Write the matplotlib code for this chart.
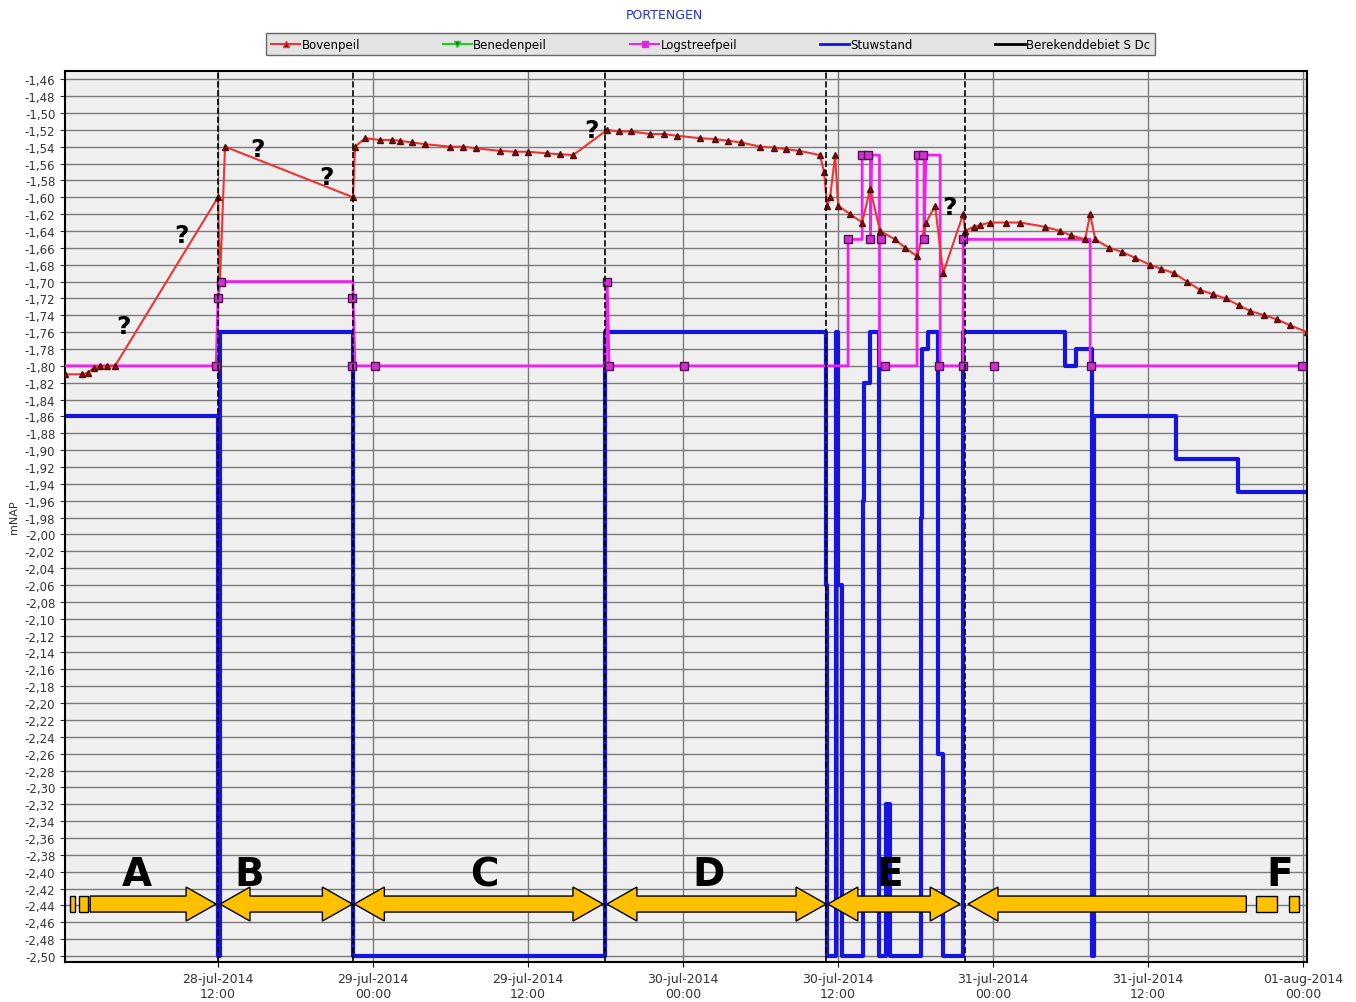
import numpy as np
import matplotlib.pyplot as plt
from matplotlib.patches import Polygon, Rectangle
from matplotlib.lines import Line2D
from matplotlib.ticker import MultipleLocator, FuncFormatter

# uren vanaf 28-jul-2014 00:00
boven_t = [0.16, 1.5, 1.94, 2.4, 2.86, 3.4, 4.03, 12, 12.15, 12.54, 22.45, 22.6, 23.38, 24.5, 25.5,
           26.09, 27, 28, 29.96, 31, 32, 33.83, 35, 36, 37.5, 38.5, 39.48,
           42.12, 43, 44, 45.44, 46.5, 47.5, 49.31, 50.5, 51.5, 52.5, 53.96, 55, 56, 57, 58.6,
           58.91, 59.15, 59.38, 59.77, 60, 60.93, 61.86, 62.48,
           63.25, 64.41, 65.2, 66.11, 66.81, 67.51, 68.13, 69.68, 69.83, 70.5, 71, 71.77, 73, 74.09,
           76, 77.19, 78, 79.12, 79.51, 79.9, 81, 82, 83, 84.15, 85, 86, 87, 88.03, 89, 90, 91,
           91.9, 93, 94, 95, 96.31]
boven_v = [-1.81, -1.81, -1.808, -1.802, -1.80, -1.80, -1.80, -1.60, -1.70, -1.54, -1.60, -1.54, -1.53,
           -1.532, -1.532, -1.533, -1.535, -1.537, -1.54, -1.54, -1.542, -1.545, -1.546, -1.546,
           -1.548, -1.549, -1.55,
           -1.52, -1.522, -1.522, -1.525, -1.525, -1.527, -1.53, -1.531, -1.533, -1.535, -1.54,
           -1.541, -1.543, -1.545, -1.55,
           -1.57, -1.61, -1.60, -1.55, -1.61, -1.62, -1.63, -1.59,
           -1.64, -1.65, -1.66, -1.67, -1.63, -1.61, -1.69, -1.62, -1.64, -1.635, -1.633, -1.63,
           -1.63, -1.63, -1.635, -1.64, -1.645, -1.65, -1.62, -1.65, -1.66, -1.665, -1.672, -1.68,
           -1.685, -1.69, -1.70, -1.71, -1.715, -1.72, -1.728, -1.735, -1.74, -1.745, -1.752, -1.76]

log_t = [0.16, 11.85, 12, 12.15, 22.45, 22.45, 22.6, 42, 42.12, 42.27, 60.77, 60.77, 61.86, 61.86,
         62.5, 62.5, 62.6, 63.2, 63.2, 66.11, 66.11, 66.65, 66.65, 66.8, 67.9, 67.9, 69.68, 69.68,
         79.51, 79.51, 96.31]
log_v = [-1.80, -1.80, -1.72, -1.70, -1.70, -1.72, -1.80, -1.80, -1.70, -1.80, -1.80, -1.65, -1.65,
         -1.55, -1.55, -1.65, -1.55, -1.55, -1.80, -1.80, -1.55, -1.55, -1.65, -1.55, -1.55, -1.80,
         -1.80, -1.65, -1.65, -1.80, -1.80]
logm_t = [11.85, 12, 12.23, 22.37, 22.37, 24.15, 42.12, 42.27, 48.08, 60.77, 61.86, 62.32, 62.48,
          63.33, 63.64, 66.19, 66.58, 66.65, 67.82, 69.68, 69.68, 72.08, 79.59, 95.92]
logm_v = [-1.80, -1.72, -1.70, -1.72, -1.80, -1.80, -1.70, -1.80, -1.80, -1.65, -1.55, -1.55, -1.65,
          -1.65, -1.80, -1.55, -1.55, -1.65, -1.80, -1.80, -1.65, -1.80, -1.80, -1.80]

stuw_t = [0.16, 12, 12.15, 22.45, 41.96, 59.07, 59.15, 59.84, 60.0, 60.31, 61.93, 62.01, 62.48,
          63.17, 63.71, 64.02, 66.42, 66.5, 66.97, 67.74, 68.13, 69.68, 77.57, 78.42, 79.66,
          79.82, 86.17, 90.97, 96.31]
stuw_v = [-1.86, -2.50, -1.76, -2.50, -1.76, -2.06, -2.50, -1.76, -2.06, -2.50, -1.96, -1.82, -1.76,
          -2.50, -2.32, -2.50, -1.98, -1.78, -1.76, -2.26, -2.50, -1.76, -1.80, -1.78, -2.50,
          -1.86, -1.91, -1.95, -1.95]

fase_grenzen = [12, 22.45, 41.96, 59.07, 69.83]
fase_labels = ['A', 'B', 'C', 'D', 'E', 'F']
fase_label_t = [5.7, 14.4, 32.6, 50.0, 64.0, 94.2]
vraag_t = [4.72, 9.21, 15.02, 20.36, 40.88, 68.6]
vraag_v = [-1.753, -1.645, -1.543, -1.576, -1.520, -1.612]

fig = plt.figure(figsize=(13.56, 10.03), dpi=100)
ax = fig.add_axes([0.048, 0.04, 0.916, 0.888])
ax.set_facecolor('#efefef')

ax.plot(boven_t, boven_v, color='#ee3333', lw=1.5, marker='^', ms=4,
        mfc='#7a1010', mec='#5a0a0a', zorder=4)
ax.plot(log_t, log_v, color='#ee22ee', lw=2, zorder=3)
ax.plot(logm_t, logm_v, ls='none', marker='s', ms=6, mfc='#cc33cc', mec='#551155', zorder=5)
ax.plot(stuw_t, stuw_v, color='#1515dd', lw=3, drawstyle='steps-post', zorder=2)

for g in fase_grenzen:
    ax.axvline(g, color='black', ls='--', lw=1.2, zorder=6)

ax.set_xlim(0.16, 96.31)
ax.set_ylim(-2.507, -1.4505)
ax.yaxis.set_major_locator(MultipleLocator(0.02))
ax.yaxis.set_major_formatter(FuncFormatter(lambda v, p: f'{v:.2f}'.replace('.', ',')))
ticks = [12, 24, 36, 48, 60, 72, 84, 96]
labels = ['28-jul-2014\n12:00', '29-jul-2014\n00:00', '29-jul-2014\n12:00', '30-jul-2014\n00:00',
          '30-jul-2014\n12:00', '31-jul-2014\n00:00', '31-jul-2014\n12:00', '01-aug-2014\n00:00']
ax.set_xticks(ticks)
ax.set_xticklabels(labels, fontsize=9, color='#333333')
ax.tick_params(axis='y', labelsize=8.5, colors='#333333')
ax.grid(True, color='#7a7a7a', lw=1)
ax.set_axisbelow(True)
ax.set_ylabel('mNAP', fontsize=8, color='#333333')
for s in ax.spines.values():
    s.set_linewidth(1.5)

fig.text(0.49, 0.985, 'PORTENGEN', color='#2233cc', fontsize=9, ha='center', va='center')
handles = [Line2D([], [], color='#ee3333', marker='^', mfc='#7a1010', ms=5),
           Line2D([], [], color='#22cc22', marker='v', mfc='#116611', ms=5),
           Line2D([], [], color='#ee22ee', marker='s', mfc='#cc33cc', ms=5),
           Line2D([], [], color='#1515dd', lw=2),
           Line2D([], [], color='black', lw=2)]
fig.legend(handles, ['Bovenpeil', 'Benedenpeil', 'Logstreefpeil', 'Stuwstand', 'Berekenddebiet S Dc'],
           ncol=5, loc='center', bbox_to_anchor=(0.524, 0.955), fontsize=8.5, frameon=True,
           fancybox=False, edgecolor='#444444', facecolor='#dddddd', columnspacing=7,
           handlelength=2.5, handletextpad=0.1)

for t, l in zip(fase_label_t, fase_labels):
    ax.text(t, -2.403, l, fontsize=28, fontweight='bold', ha='center', va='center', zorder=8)
for t, v in zip(vraag_t, vraag_v):
    ax.text(t, v, '?', fontsize=18, fontweight='bold', ha='center', va='center', zorder=8)

# gele pijlen in pixels tekenen
fig.canvas.draw()
yc = ax.transData.transform((0, -2.4384))[1]


def pijl(x0, x1, links, rechts):
    hw, th, hl = 17, 8, 30
    xa = ax.transData.transform((x0, 0))[0]
    xb = ax.transData.transform((x1, 0))[0]
    pts = []
    if links:
        pts += [(xa, yc), (xa + hl, yc + hw), (xa + hl, yc + th)]
    else:
        pts += [(xa, yc + th)]
    if rechts:
        pts += [(xb - hl, yc + th), (xb - hl, yc + hw), (xb, yc), (xb - hl, yc - hw), (xb - hl, yc - th)]
    else:
        pts += [(xb, yc + th), (xb, yc - th)]
    if links:
        pts += [(xa + hl, yc - th), (xa + hl, yc - hw)]
    else:
        pts += [(xa, yc - th)]
    fig.patches.append(Polygon(pts, closed=True, fc='#ffc000', ec='black', lw=1,
                               transform=None, figure=fig, zorder=9))


def blokje(x0, x1):
    xa = ax.transData.transform((x0, 0))[0]
    xb = ax.transData.transform((x1, 0))[0]
    fig.patches.append(Rectangle((xa, yc - 8), xb - xa, 16, fc='#ffc000', ec='black', lw=1,
                                 transform=None, figure=fig, zorder=9))


pijl(2.1, 11.85, False, True)
blokje(0.55, 0.95)
blokje(1.2, 1.9)
pijl(12.15, 22.4, True, True)
pijl(22.55, 41.8, True, True)
pijl(42.1, 59.07, True, True)
pijl(59.2, 69.45, True, True)
pijl(70.05, 91.6, True, False)
blokje(92.35, 94.0)
blokje(94.9, 95.7)

fig.savefig('out.png', dpi=100)
